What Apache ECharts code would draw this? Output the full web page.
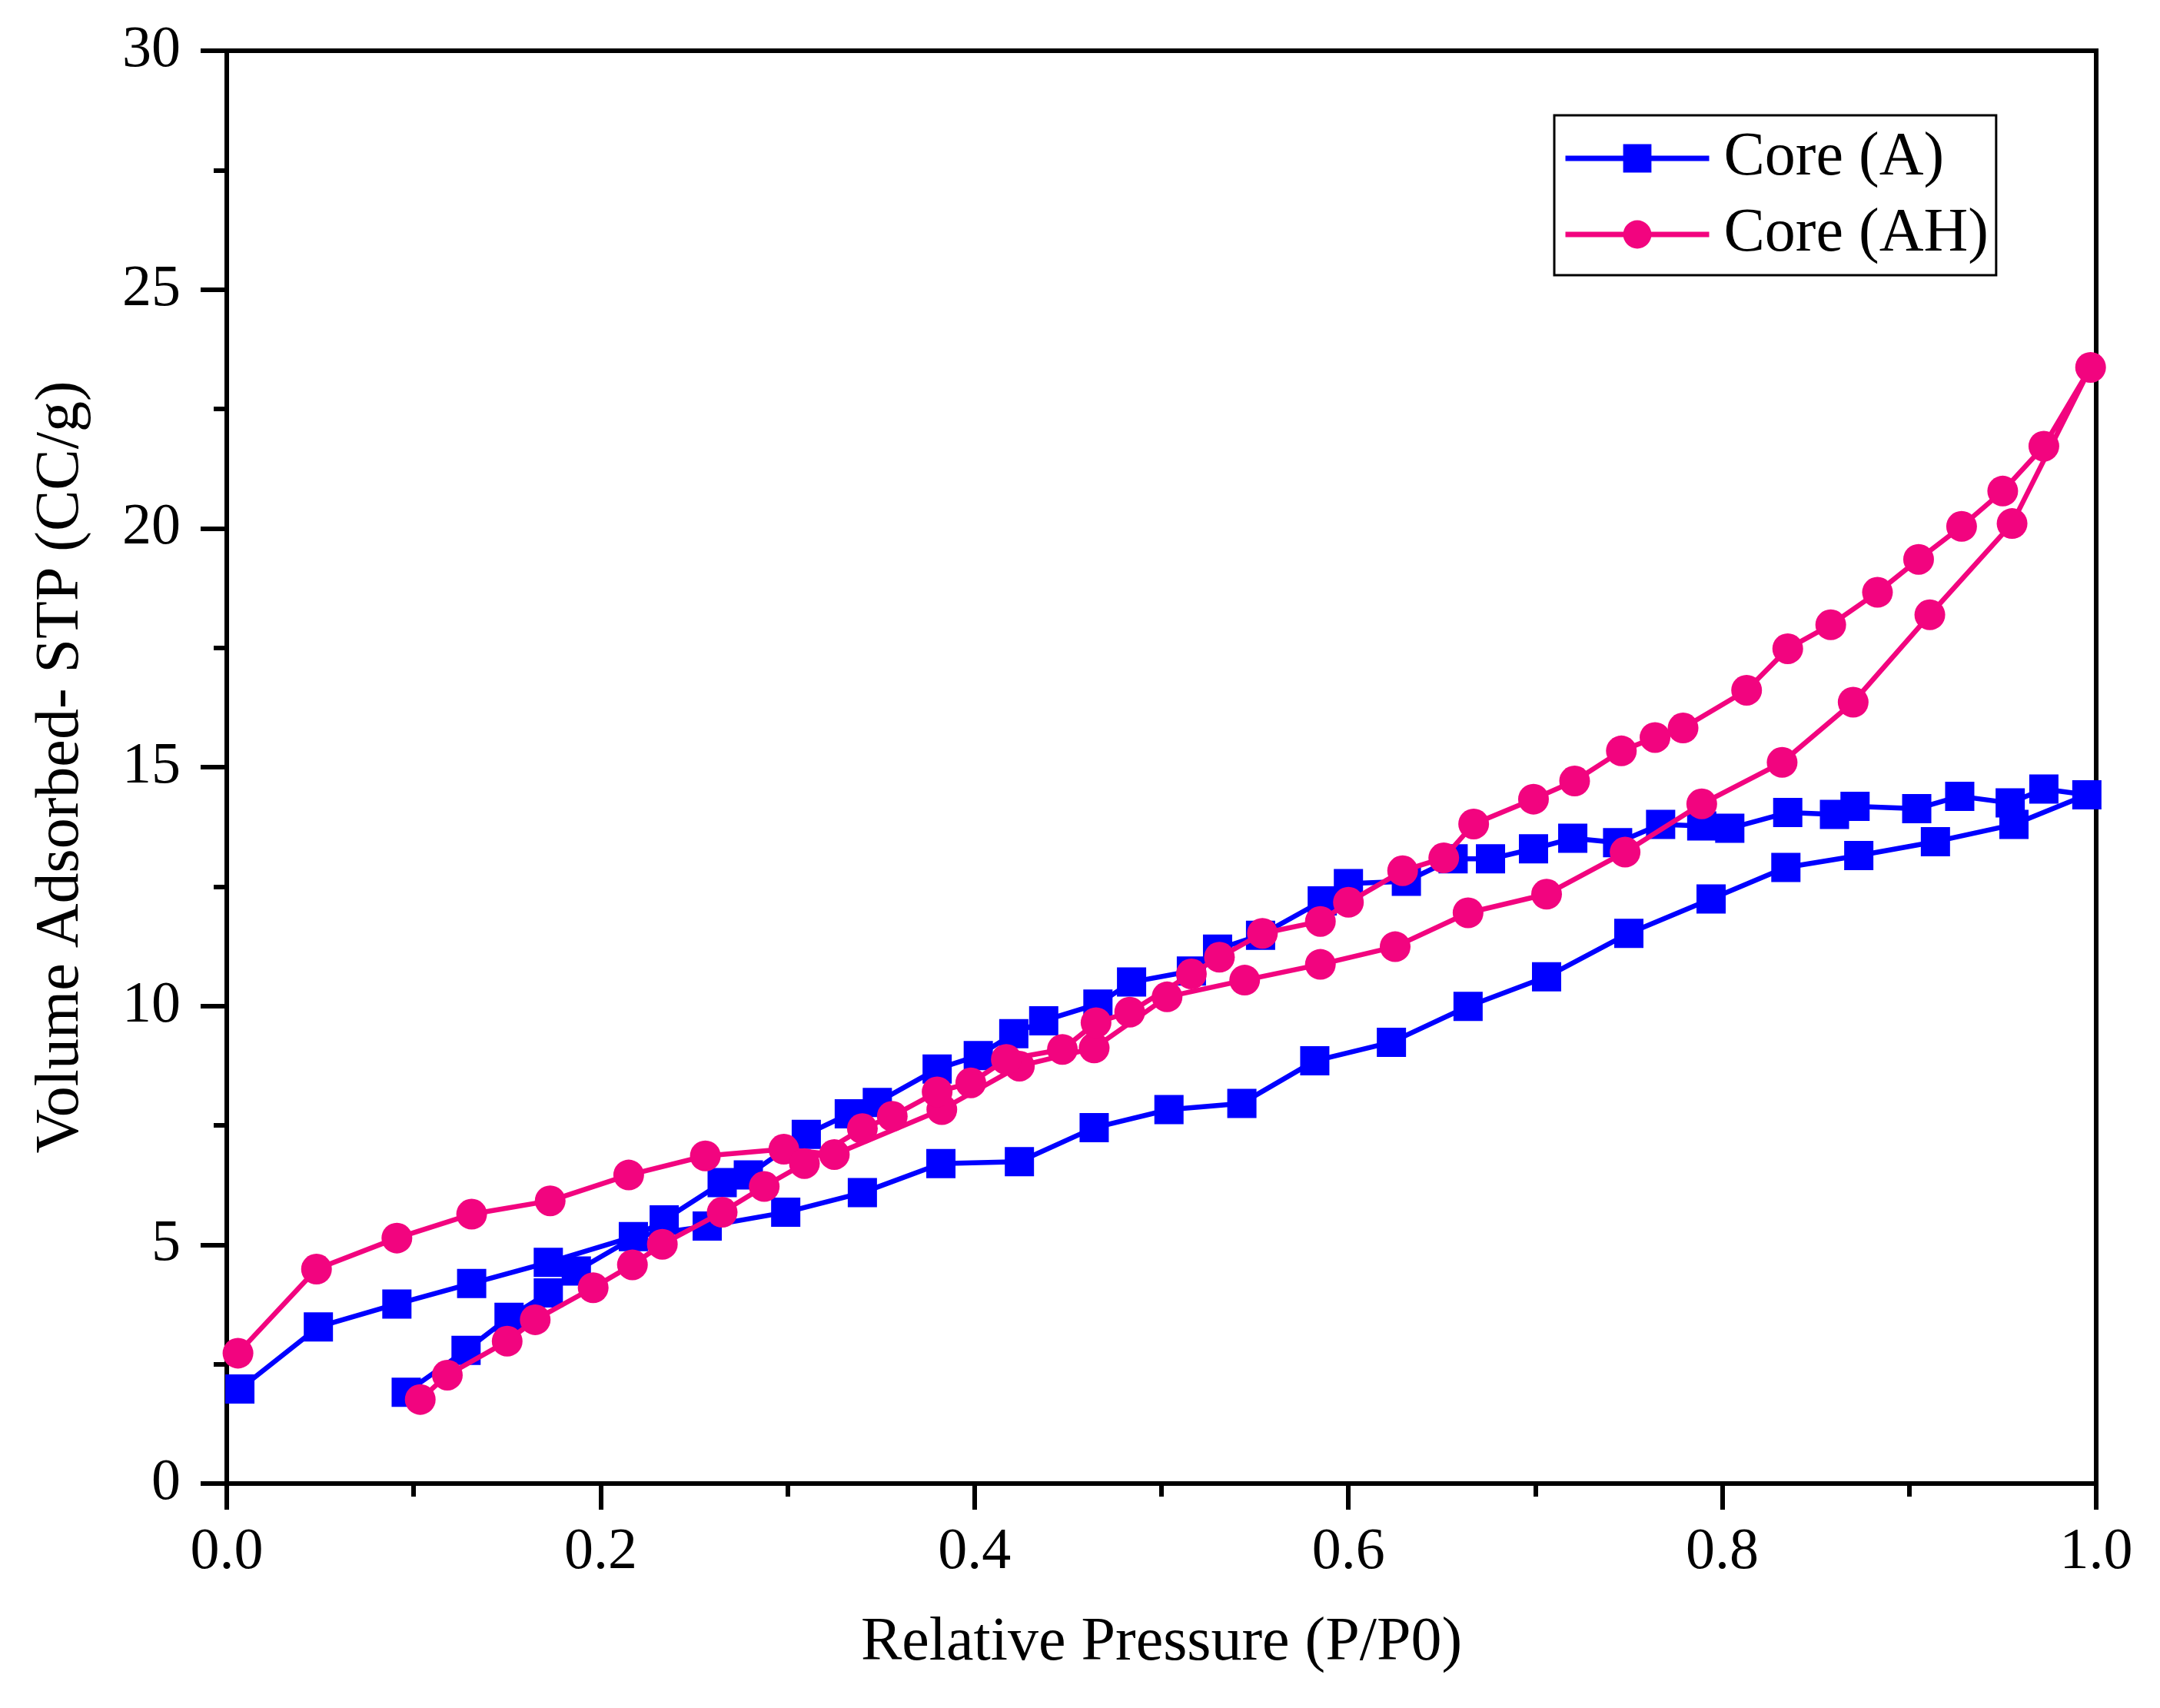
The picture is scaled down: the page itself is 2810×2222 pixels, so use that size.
<!DOCTYPE html>
<html>
<head>
<meta charset="utf-8">
<script src="https://cdn.jsdelivr.net/npm/echarts@6/dist/echarts.min.js"></script>
<style>
html,body{margin:0;padding:0;background:#fff;}
#chart{width:2810px;height:2222px;}
</style>
</head>
<body>
<div id="chart"></div>
<script>
// Core (A): relative pressure and volume adsorbed, in drawing order
const coreA_P = [0.007,0.049,0.091,0.131,0.172,0.2175,0.257,0.299,0.340,0.382,0.424,0.464,0.504,0.543,0.582,0.623,0.664,0.706,0.750,0.794,0.834,0.873,0.914,0.956,0.995,0.972,0.954,0.927,0.904,0.871,0.860,0.835,0.804,0.789,0.767,0.744,0.720,0.699,0.676,0.656,0.631,0.600,0.586,0.553,0.530,0.516,0.484,0.466,0.437,0.421,0.402,0.380,0.348,0.333,0.310,0.279,0.265,0.234,0.187,0.172,0.151,0.128,0.096];
const coreA_V = [1.98,3.28,3.76,4.19,4.63,5.17,5.39,5.68,6.09,6.70,6.74,7.45,7.83,7.96,8.85,9.24,9.99,10.61,11.52,12.24,12.90,13.15,13.44,13.80,14.42,14.54,14.25,14.39,14.13,14.18,14.01,14.05,13.72,13.77,13.80,13.42,13.51,13.29,13.08,13.08,12.61,12.56,12.20,11.48,11.19,10.73,10.50,10.04,9.69,9.42,8.96,8.68,7.98,7.74,7.31,6.46,6.30,5.52,4.45,3.99,3.48,2.79,1.91];

// Core (AH)
const coreAH_P = [0.006,0.048,0.091,0.131,0.173,0.215,0.256,0.298,0.325,0.3825,0.424,0.464,0.503,0.5445,0.585,0.625,0.664,0.706,0.748,0.789,0.832,0.870,0.911,0.955,0.997,0.972,0.950,0.928,0.905,0.883,0.858,0.835,0.813,0.779,0.764,0.746,0.721,0.699,0.667,0.651,0.629,0.600,0.585,0.554,0.531,0.516,0.483,0.465,0.447,0.417,0.398,0.380,0.356,0.340,0.309,0.2875,0.265,0.233,0.217,0.196,0.165,0.150,0.118,0.1035];
const coreAH_V = [2.73,4.49,5.14,5.64,5.92,6.46,6.86,7.00,6.89,7.83,8.74,9.12,10.19,10.54,10.87,11.24,11.95,12.34,13.22,14.23,15.10,16.36,18.19,20.10,23.37,21.72,20.78,20.04,19.35,18.66,17.98,17.48,16.61,15.82,15.62,15.34,14.71,14.33,13.81,13.10,12.83,12.17,11.77,11.52,11.02,10.67,9.87,9.65,9.09,8.88,8.39,8.20,7.69,7.43,6.70,6.22,5.68,5.01,4.58,4.10,3.43,2.98,2.27,1.76];

const seriesNames = ['Core (A)', 'Core (AH)'];
const xTitle = 'Relative Pressure (P/P0)';
const yTitle = 'Volume Adsorbed- STP (CC/g)';

const FONT = '"Liberation Serif", "Times New Roman", serif';
const BLUE = '#0000FF';
const PINK = '#F2047F';

function pairs(xs, ys){ return xs.map((x,i)=>[x, ys[i]]); }

const chart = echarts.init(document.getElementById('chart'), null, {renderer:'canvas'});
const axisCommon = {
  axisLine:{show:true, onZero:false, lineStyle:{color:'#000', width:6}},
  axisTick:{show:true, inside:false, length:34, lineStyle:{color:'#000', width:6}},
  minorTick:{show:true, splitNumber:2, length:17, lineStyle:{color:'#000', width:6}},
  splitLine:{show:false},
  minorSplitLine:{show:false},
  nameTextStyle:{fontFamily:FONT, fontSize:80, color:'#000'}
};
chart.setOption({
  backgroundColor:'#fff',
  animation:false,
  grid:{left:295, right:83, top:66, bottom:292, show:true, borderColor:'#000', borderWidth:6, backgroundColor:'rgba(0,0,0,0)', outerBoundsMode:'none', containLabel:false},
  legend:{
    orient:'vertical', left:2022, top:150,
    padding:[16,10,13,11],
    borderColor:'#000', borderWidth:3, backgroundColor:'#fff',
    itemWidth:187, itemHeight:46, itemGap:19,
    lineStyle:{width:7},
    textStyle:{fontFamily:FONT, fontSize:80, color:'#000', padding:[0,0,0,14]},
    data:seriesNames
  },
  xAxis:Object.assign({
    type:'value', min:0, max:1, interval:0.2,
    name:xTitle, nameLocation:'middle', nameGap:168,
    axisLabel:{fontFamily:FONT, fontSize:76, color:'#000', margin:52, formatter:v=>v.toFixed(1)}
  }, axisCommon),
  yAxis:Object.assign({
    type:'value', min:0, max:30, interval:5,
    name:yTitle, nameLocation:'middle', nameGap:175,
    axisLabel:{fontFamily:FONT, fontSize:76, color:'#000', margin:60}
  }, axisCommon),
  series:[
    {
      name:seriesNames[0], type:'line', data:pairs(coreA_P, coreA_V),
      symbol:'rect', symbolSize:38, showAllSymbol:true,
      lineStyle:{color:BLUE, width:6.5}, itemStyle:{color:BLUE},
      clip:false, z:2
    },
    {
      name:seriesNames[1], type:'line', data:pairs(coreAH_P, coreAH_V),
      symbol:'circle', symbolSize:40, showAllSymbol:true,
      lineStyle:{color:PINK, width:6.5}, itemStyle:{color:PINK},
      clip:false, z:3
    }
  ]
});
</script>
</body>
</html>
